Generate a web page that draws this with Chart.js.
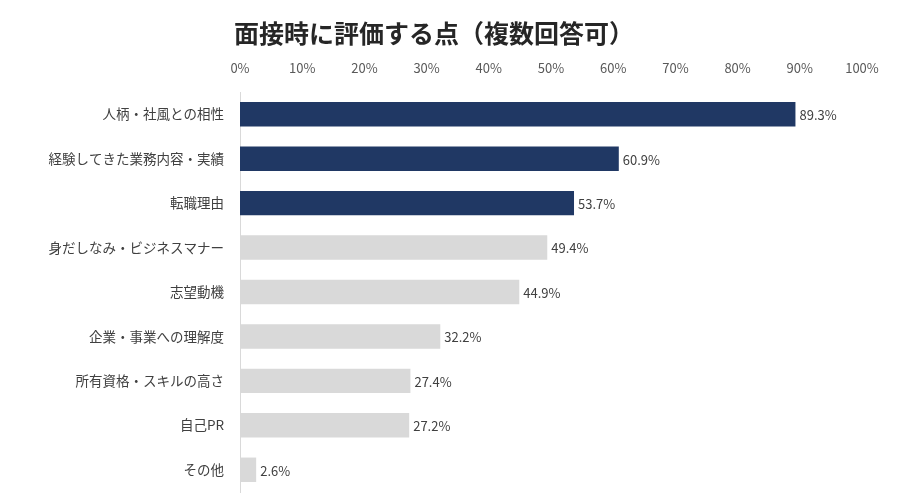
<!DOCTYPE html>
<html>
<head>
<meta charset="utf-8">
<script src="https://cdn.jsdelivr.net/npm/chart.js@4"></script>
<style>
  html, body { margin: 0; padding: 0; background: #fff; }
  #wrap { width: 906px; height: 498px; }
</style>
</head>
<body>
<div id="wrap"><canvas id="barChart"></canvas></div>
<script>
const titleText = '面接時に評価する点（複数回答可）';
const categories = ['人柄・社風との相性', '経験してきた業務内容・実績', '転職理由', '身だしなみ・ビジネスマナー', '志望動機', '企業・事業への理解度', '所有資格・スキルの高さ', '自己PR', 'その他'];
const values = [89.3, 60.9, 53.7, 49.4, 44.9, 32.2, 27.4, 27.2, 2.6];
const highlighted = [true, true, true, false, false, false, false, false, false];
const tickValues = [0, 10, 20, 30, 40, 50, 60, 70, 80, 90, 100];

const FONT = '"Noto Sans CJK JP", "Noto Sans", sans-serif';

// draws the chart title and the value next to each bar
const labelsPlugin = {
  id: 'labels',
  afterDraw(chart) {
    const ctx = chart.ctx;
    ctx.save();
    ctx.fillStyle = '#262626';
    ctx.font = 'bold 25px ' + FONT;
    ctx.textAlign = 'center';
    ctx.textBaseline = 'middle';
    ctx.fillText(titleText, 434, 33);

    ctx.font = '13px ' + FONT;
    ctx.fillStyle = '#404040';
    ctx.textAlign = 'left';
    const meta = chart.getDatasetMeta(0);
    meta.data.forEach((bar, i) => {
      ctx.fillText(values[i].toFixed(1) + '%', bar.x + 4, bar.y + 1);
    });
    ctx.restore();
  }
};

const ctx = document.getElementById('barChart').getContext('2d');
const barChart = new Chart(ctx, {
  type: 'bar',
  data: {
    labels: categories,
    datasets: [{
      data: values,
      backgroundColor: highlighted.map(h => h ? '#203864' : '#D9D9D9'),
      barPercentage: 0.55,
      categoryPercentage: 1
    }]
  },
  options: {
    indexAxis: 'y',
    responsive: true,
    maintainAspectRatio: false,
    animation: false,
    layout: { padding: { top: 48, right: 44, bottom: 6, left: 0 } },
    scales: {
      x: {
        position: 'top',
        min: 0,
        max: 100,
        afterBuildTicks: scale => { scale.ticks = tickValues.map(v => ({ value: v })); },
        afterFit: scale => { scale.height = 44; },
        grid: { display: false, drawTicks: false },
        border: { display: false },
        ticks: {
          padding: 16,
          color: '#595959',
          font: { family: FONT, size: 13 },
          callback: v => v + '%'
        }
      },
      y: {
        afterFit: scale => {
          scale.width = 240;
          scale.paddingTop = 0;
          scale.paddingBottom = 0;
        },
        grid: { display: false, drawTicks: false },
        border: { display: true, color: '#D9D9D9', width: 1 },
        ticks: {
          padding: 16,
          color: '#404040',
          font: { family: FONT, size: 13.5 }
        }
      }
    },
    plugins: {
      legend: { display: false },
      title: { display: false },
      tooltip: { enabled: false }
    }
  },
  plugins: [labelsPlugin]
});
</script>
</body>
</html>
